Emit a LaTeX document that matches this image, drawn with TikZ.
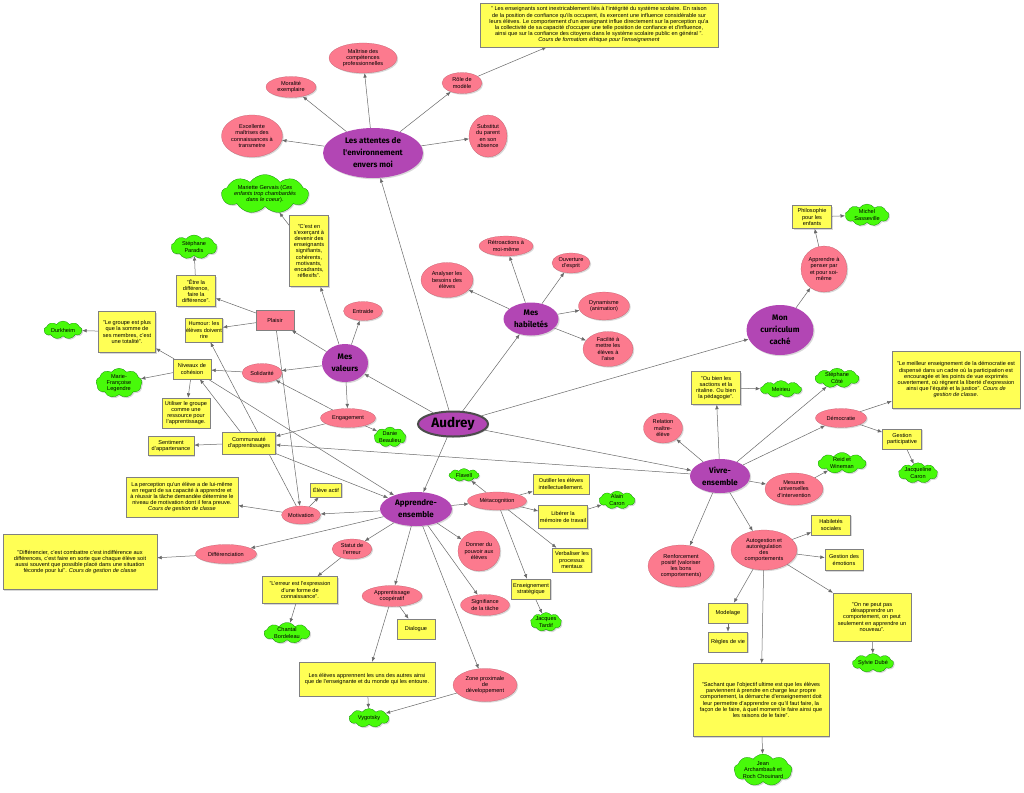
\documentclass[tikz,border=0pt]{standalone}
\usepackage{fontspec}
\setmainfont{Liberation Sans}
\newfontfamily\cfont{Fira Sans}
\usetikzlibrary{shapes.geometric,shapes.symbols,arrows.meta,shadows}
\pgfdeclarelayer{bg}
\pgfsetlayers{bg,main}
\definecolor{cpurple}{RGB}{178,70,180}
\definecolor{cpink}{RGB}{252,122,142}
\definecolor{cyellow}{RGB}{255,255,85}
\definecolor{cgreen}{RGB}{72,250,10}
\definecolor{cline}{RGB}{105,105,105}
\tikzset{
 base/.style={align=center, inner sep=0pt, font=\fontsize{5.6}{6.2}\selectfont,
   drop shadow={shadow xshift=1.2pt,shadow yshift=-1.2pt,opacity=0.3}},
 sz/.style 2 args={minimum width=#1pt, minimum height=#2pt},
 concept/.style={base, ellipse, fill=cpurple, font=\cfont\bfseries\fontsize{8}{12}\selectfont},
 idea/.style={base, ellipse, fill=cpink, draw=cpink!75!black, line width=0.2pt},
 ideabox/.style={base, rectangle, fill=cpink, draw=gray, line width=0.3pt},
 note/.style={base, rectangle, fill=cyellow, draw=gray, line width=0.4pt},
 author/.style={base, cloud, cloud puffs=9, cloud puff arc=110, cloud ignores aspect, fill=cgreen, draw=green!45!black, line width=0.2pt},
 link/.style={draw=cline, line width=0.5pt, -{Latex[length=4.5pt,width=3.6pt]}},
}
\begin{document}
\begin{tikzpicture}[x=1pt,y=1pt]
\useasboundingbox (0,0) rectangle (1024,-792);

% ---- main concepts
\node[concept,sz={100}{50}] (att) at (373,-153) {Les attentes de\\l'environnement\\envers moi};
\node[concept,sz={46}{38}] (val) at (345,-363) {Mes\\valeurs};
\node[concept,sz={55}{33}] (hab) at (531,-319) {Mes\\habiletés};
\node[concept,sz={67}{50}] (cur) at (780,-330) {Mon\\curriculum\\caché};
\node[concept,sz={72}{34}] (app) at (416,-509) {Apprendre-\\ensemble};
\node[concept,sz={60}{34}] (viv) at (720,-476) {Vivre-\\ensemble};
\node[concept,sz={70}{25},draw=black!70,line width=2pt,font=\cfont\bfseries\fontsize{13.5}{15}\selectfont] (aud) at (453,-424) {Audrey};

% ---- attentes
\node[idea,sz={68}{30}] (maitrise) at (363,-58) {Maîtrise des\\compétences\\professionnelles};
\node[idea,sz={50}{21}] (moral) at (291,-87) {Moralité\\exemplaire};
\node[idea,sz={40}{21}] (role) at (462,-83) {Rôle de\\modèle};
\node[idea,sz={61}{42}] (excel) at (252,-136) {Excellente\\maîtrises des\\connaissances à\\transmetre};
\node[idea,sz={38}{42}] (subst) at (488,-136) {Substitut\\du parent\\en son\\absence};
\node[note,sz={238}{44}] (qatt) at (599,-25) {" Les enseignants sont inextricablement liés à l'intégrité du système scolaire. En raison\\de la position de confiance qu'ils occupent, ils exercent une influence considérable sur\\leurs élèves. Le comportement d'un enseignant influe directement sur la perception qu'a\\la collectivité de sa capacité d'occuper une telle position de confiance et d'influence,\\ainsi que sur la confiance des citoyens dans le système scolaire public en général ".\\\textit{Cours de formatiom éthique pour l'enseignement}};

% ---- valeurs
\node[author,sz={82}{30}] (mariette) at (265,-194) {Mariette Gervais (\textit{Ces}\\\textit{enfants trop chambardés}\\\textit{dans le coeur}).};
\node[note,sz={39}{71}] (cesten) at (309,-251) {"C'est en\\s'exerçant à\\devenir des\\enseignants\\signifiants,\\cohérents,\\motivants,\\encadrants,\\réflexifs".};
\node[author,sz={46}{24}] (paradis) at (194,-247) {Stéphane\\Paradis};
\node[note,sz={39}{31}] (etre) at (196,-291) {"Être la\\différence,\\faire la\\différence".};
\node[ideabox,sz={38}{20}] (plaisir) at (275,-320) {Plaisir};
\node[idea,sz={39}{19}] (entraide) at (363,-311) {Entraide};
\node[note,sz={37}{24}] (humour) at (204,-330) {Humour: les\\élèves doivent\\rire};
\node[author,sz={38}{18}] (durk) at (63,-330) {Durkheim};
\node[note,sz={57}{41}] (groupe) at (127,-332) {"Le groupe est plus\\que la somme de\\ses membres, c'est\\une totalité".};
\node[note,sz={38}{20}] (niveaux) at (192,-369) {Niveaux de\\cohésion};
\node[idea,sz={40}{19}] (solid) at (262,-373) {Solidarité};
\node[author,sz={46}{28}] (legendre) at (119,-383) {Marie-\\Françoise\\Legendre};
\node[note,sz={48}{30}] (utiliser) at (186,-413) {Utiliser le groupe\\comme une\\ressource pour\\l'apprentissage.};
\node[idea,sz={55}{19}] (engag) at (348,-418) {Engagement};
\node[author,sz={32}{20}] (danie) at (390,-437) {Danie\\Beaulieu};
\node[note,sz={46}{19}] (sentim) at (171,-446) {Sentiment\\d'appartenance};
\node[note,sz={53}{22}] (commu) at (249,-443) {Communauté\\d'apprentissages};

% ---- apprendre-ensemble
\node[note,sz={112}{40}] (percep) at (182,-497) {La perception qu'un élève a de lui-même\\en regard de sa capacité à apprendre et\\à réussir la tâche demandée détermine le\\niveau de motivation dont il fera preuve.\\\textit{Cours de gestion de classe}};
\node[note,sz={31}{14}] (eleveact) at (326,-490) {Élève actif};
\node[idea,sz={39}{18}] (motiv) at (301,-515) {Motivation};
\node[idea,sz={61}{19}] (diff) at (226,-554) {Différenciation};
\node[note,sz={154}{55}] (differ) at (80,-562) {"Différencier, c'est combattre c'est indifférence aux\\différences, c'est faire en sorte que chaque élève soit\\aussi souvent que possible placé dans une situation\\féconde pour lui". \textit{Cours de gestion de classe}};
\node[idea,sz={40}{20}] (statut) at (352,-549) {Statut de\\l'erreur};
\node[note,sz={75}{27}] (erreur) at (300,-590) {"L'erreur est l'expression\\d'une forme de\\connaissance".};
\node[author,sz={46}{21}] (chantal) at (287,-633) {Chantal\\Bordeleau};
\node[idea,sz={60}{21}] (coop) at (392,-596) {Apprentissage\\coopératif};
\node[note,sz={38}{20}] (dialog) at (416,-629) {Dialogue};
\node[note,sz={136}{34}] (eleves) at (367,-679) {Les élèves apprennent les uns des autres ainsi\\que de l'enseignante et du monde qui les entoure.};
\node[author,sz={40}{19}] (vygot) at (369,-718) {Vygotsky};
\node[idea,sz={64}{33}] (zone) at (485,-685) {Zone proximale\\de\\développement};
\node[idea,sz={42}{40}] (donner) at (479,-551) {Donner du\\pouvoir aux\\élèves};
\node[idea,sz={49}{21}] (signif) at (485,-605) {Signifiance\\de la tâche};
\node[idea,sz={59}{18}] (meta) at (497,-501) {Métacognition};
\node[author,sz={30}{13}] (flavell) at (464,-475) {Flavell};
\node[note,sz={56}{20}] (outil) at (561,-484) {Outiller les élèves\\intellectuellement.};
\node[note,sz={49}{23}] (liberer) at (563,-517) {Libérer la\\mémoire de travail};
\node[author,sz={36}{18}] (caron) at (617,-500) {Alain\\Caron};
\node[note,sz={39}{24}] (verbal) at (572,-560) {Verbaliser les\\processus\\mentaux};
\node[note,sz={39}{20}] (enseign) at (531,-589) {Enseignement\\stratégique};
\node[author,sz={31}{19}] (tardif) at (546,-622) {Jacques\\Tardif};

% ---- habiletes
\node[idea,sz={54}{20}] (retro) at (506,-246) {Rétroactions à\\moi-même};
\node[idea,sz={38}{20}] (ouvert) at (571,-263) {Ouverture\\d'esprit};
\node[idea,sz={52}{35}] (analy) at (447,-280) {Analyser les\\besoins des\\élèves};
\node[idea,sz={51}{28}] (dyna) at (604,-306) {Dynamisme\\(animation)};
\node[idea,sz={50}{35}] (facil) at (608,-349) {Facilité à\\mettre les\\élèves à\\l'aise};

% ---- curriculum
\node[idea,sz={46}{46}] (penser) at (824,-269) {Apprendre à\\penser par\\et pour soi-\\même};
\node[note,sz={39}{23}] (philo) at (812,-217) {Philosophie\\pour les\\enfants};
\node[author,sz={44}{22}] (sassev) at (867,-215) {Michel\\Sasseville};

% ---- vivre-ensemble
\node[note,sz={128}{57}] (meilleur) at (956,-380) {"Le meilleur enseignement de la démocratie est\\dispensé dans un cadre où la participation est\\encouragée et les points de vue exprimés\\ouvertement, où règnent la liberté d'expression\\ainsi que l'équité et la justice". \textit{Cours de}\\\textit{gestion de classe.}};
\node[note,sz={49}{33}] (oubien) at (716,-388) {"Ou bien les\\sactions et la\\ritaline. Ou bien\\la pédagogie".};
\node[author,sz={41}{17}] (meirieu) at (781,-389) {Meirieu};
\node[author,sz={44}{18}] (cote) at (837,-378) {Stéphane\\Côté};
\node[idea,sz={39}{30}] (relat) at (663,-428) {Relation\\maître-\\élève};
\node[idea,sz={51}{19}] (demo) at (841,-418) {Démocratie};
\node[note,sz={39}{20}] (gestpart) at (902,-439) {Gestion\\participative};
\node[author,sz={39}{20}] (jcaron) at (918,-473) {Jacqueline\\Caron};
\node[author,sz={48}{21}] (reid) at (842,-463) {Reid et\\Wineman};
\node[idea,sz={58}{32}] (mesures) at (794,-489) {Mesures\\universelles\\d'intervention};
\node[idea,sz={66}{42}] (renfo) at (681,-566) {Renforcement\\positif (valoriser\\les bons\\comportements)};
\node[idea,sz={66}{40}] (autog) at (764,-550) {Autogestion et\\autorégulation\\des\\comportements};
\node[note,sz={39}{20}] (habsoc) at (831,-525) {Habiletés\\sociales};
\node[note,sz={38}{21}] (gestemo) at (844,-560) {Gestion des\\émotions};
\node[note,sz={39}{20}] (modelage) at (728,-613) {Modelage};
\node[note,sz={39}{20}] (regles) at (728,-642) {Règles de vie};
\node[note,sz={78}{48}] (onne) at (872,-617) {"On ne peut pas\\désapprendre un\\comportement, on peut\\seulement en apprendre un\\nouveau".};
\node[author,sz={41}{19}] (dube) at (873,-663) {Sylvie Dubé};
\node[note,sz={136}{73}] (sachant) at (761,-700) {"Sachant que l'objectif ultime est que les élèves\\parviennent à prendre en charge leur propre\\comportement, la démarche d'enseignement doit\\leur permettre d'apprendre ce qu'il faut faire, la\\façon de le faire, à quel moment le faire ainsi que\\les raisons de le faire".};
\node[author,sz={56}{26}] (jean) at (763,-770) {Jean\\Archambault et\\Roch Chouinard};

\begin{pgfonlayer}{bg}
\fill[white] (0,0) rectangle (1024,-792);
\foreach \a/\b in {aud/att, aud/val, aud/hab, aud/cur, aud/viv, aud/app,
  att/maitrise, att/moral, att/role, att/excel, att/subst, role/qatt,
  val/cesten, cesten/mariette, val/entraide, val/plaisir, val/solid, val/engag,
  plaisir/etre, etre/paradis, plaisir/humour, plaisir/motiv,
  solid/niveaux, engag/solid, engag/danie, engag/commu,
  niveaux/groupe, groupe/durk, niveaux/legendre, niveaux/utiliser, niveaux/app,
  commu/niveaux, commu/sentim, commu/app, viv/commu,
  app/motiv, motiv/percep, motiv/eleveact, motiv/humour,
  app/diff, diff/differ, app/statut, statut/erreur, erreur/chantal,
  app/coop, coop/eleves, coop/dialog, eleves/vygot, zone/vygot, app/zone, app/signif, app/donner, app/meta,
  meta/flavell, meta/outil, meta/liberer, liberer/caron, meta/verbal, meta/enseign, enseign/tardif,
  hab/retro, hab/ouvert, hab/analy, hab/dyna, hab/facil,
  cur/penser, penser/philo, philo/sassev,
  viv/relat, viv/oubien, oubien/meirieu, viv/cote, viv/demo, demo/meilleur, demo/gestpart, gestpart/jcaron,
  viv/mesures, mesures/reid, viv/renfo, viv/autog,
  autog/habsoc, autog/gestemo, autog/modelage, modelage/regles, autog/sachant, autog/onne, onne/dube, sachant/jean}
  \draw[link] (\a) -- (\b);
\end{pgfonlayer}
\end{tikzpicture}
\end{document}
